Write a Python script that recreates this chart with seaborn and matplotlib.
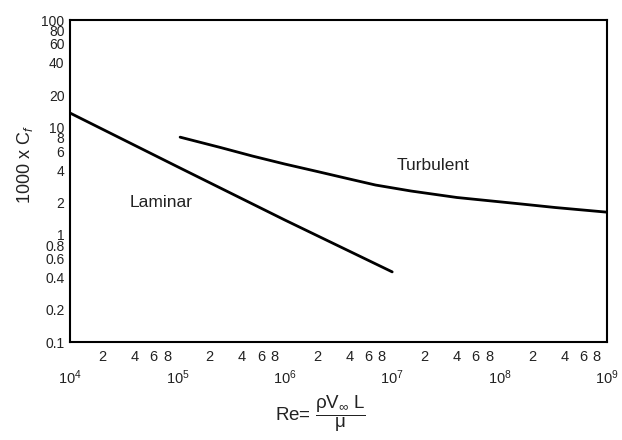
import matplotlib
matplotlib.use("Agg")
import matplotlib.pyplot as plt
import seaborn as sns
import pandas as pd
from matplotlib.ticker import FixedLocator, FixedFormatter

# ---- data ----
laminar_re = [1e4, 1e5, 1e6, 1e7]
laminar_cf = [13.6, 4.3, 1.37, 0.45]
turbulent_re = [1.06e5, 2.5e5, 5e5, 1e6, 2e6, 4e6, 7e6,
                1.5e7, 4e7, 8e7, 1.6e8, 3.3e8, 1e9]
turbulent_cf = [8.1, 6.5, 5.4, 4.55, 3.88, 3.3, 2.9,
                2.55, 2.22, 2.07, 1.93, 1.79, 1.62]

y_ticks = [0.1, 0.2, 0.4, 0.6, 0.8, 1, 2, 4, 6, 8, 10, 20, 40, 60, 80, 100]
y_tick_labels = ["0.1", "0.2", "0.4", "0.6", "0.8", "1", "2", "4", "6", "8",
                 "10", "20", "40", "60", "80", "100"]
x_major = [1e4, 1e5, 1e6, 1e7, 1e8, 1e9]
x_major_labels = [r"$10^{4}$", r"$10^{5}$", r"$10^{6}$", r"$10^{7}$", r"$10^{8}$", r"$10^{9}$"]
x_minor_mult = [2, 4, 6, 8]

sns.set_style("white")
plt.rcParams["font.family"] = ["Liberation Sans", "DejaVu Sans"]
plt.rcParams["mathtext.fontset"] = "custom"
plt.rcParams["mathtext.rm"] = "Liberation Sans"
plt.rcParams["mathtext.it"] = "Liberation Sans:italic"
plt.rcParams["mathtext.bf"] = "Liberation Sans:bold"

df_lam = pd.DataFrame({"Re": laminar_re, "Cf": laminar_cf})
df_turb = pd.DataFrame({"Re": turbulent_re, "Cf": turbulent_cf})

fig = plt.figure(figsize=(6.22, 4.4), dpi=100)
ax = fig.add_axes([70 / 622, 1 - 342 / 440, (607 - 70) / 622, (342 - 20) / 440])

sns.lineplot(data=df_lam, x="Re", y="Cf", ax=ax, color="black", linewidth=2.0)
sns.lineplot(data=df_turb, x="Re", y="Cf", ax=ax, color="black", linewidth=2.0)

ax.set_xscale("log")
ax.set_yscale("log")
ax.set_xlim(1e4, 1e9)
ax.set_ylim(0.1, 100)

ax.yaxis.set_major_locator(FixedLocator(y_ticks))
ax.yaxis.set_major_formatter(FixedFormatter(y_tick_labels))
ax.yaxis.set_minor_locator(FixedLocator([]))

minor_pos = [m * d for d in x_major[:-1] for m in x_minor_mult]
minor_labels = [str(m) for d in x_major[:-1] for m in x_minor_mult]
ax.xaxis.set_major_locator(FixedLocator(x_major))
ax.xaxis.set_major_formatter(FixedFormatter(x_major_labels))
ax.xaxis.set_minor_locator(FixedLocator(minor_pos))
ax.xaxis.set_minor_formatter(FixedFormatter(minor_labels))

ax.tick_params(axis="y", which="major", direction="in", length=5, width=1.3,
               labelsize=10, pad=4, color="black", labelcolor="#222222")
ax.tick_params(axis="x", which="minor", direction="in", length=5, width=1.3,
               labelsize=10.5, pad=6, color="black", labelcolor="#222222")
ax.tick_params(axis="x", which="major", direction="in", length=5, width=1.3,
               labelsize=10.5, pad=19, color="black", labelcolor="#222222")

for s in ax.spines.values():
    s.set_visible(True)
    s.set_color("black")
    s.set_linewidth(1.5)

ax.set_xlabel("")
ax.set_ylabel("")

ax.text(3.6e4, 2.0, "Laminar", fontsize=12.5, va="center", ha="left", color="#222222")
ax.text(1.1e7, 4.45, "Turbulent", fontsize=12.5, va="center", ha="left", color="#222222")

fig.text(25 / 622, 1 - 165 / 440, r"1000 x C$_{f}$", rotation=90, fontsize=13,
         ha="center", va="center", color="#222222")
fig.text(320 / 622, 1 - 414 / 440,
         r"Re= $\dfrac{\mathrm{\rho V_{\infty}\ L}}{\mathrm{\mu}}$",
         fontsize=13.5, ha="center", va="center", color="#222222")

fig.savefig("out.png", dpi=100, facecolor="white")
